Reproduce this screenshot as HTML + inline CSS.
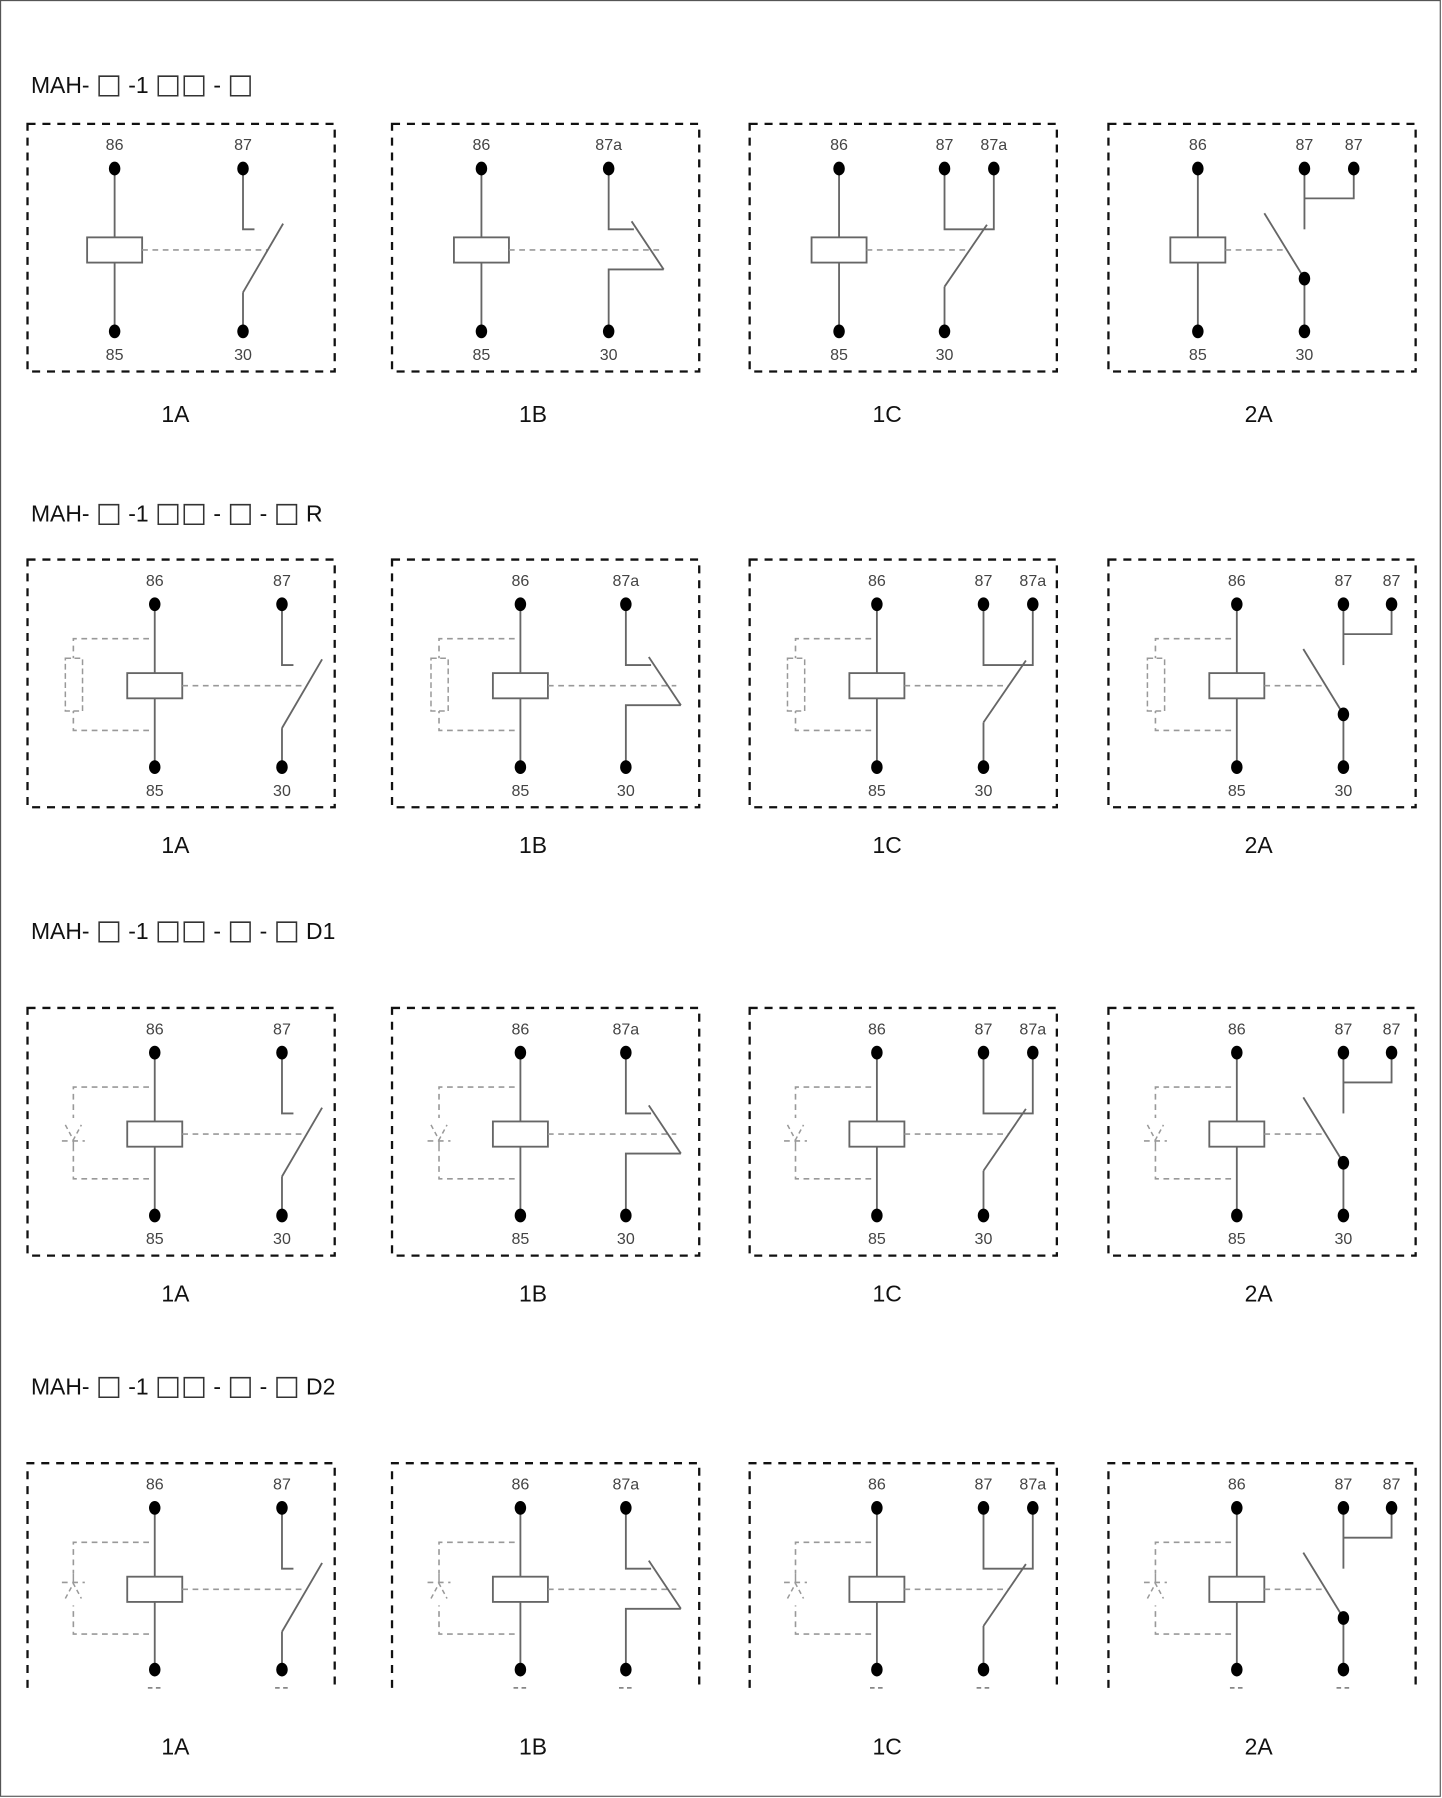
<!DOCTYPE html>
<html><head><meta charset="utf-8"><style>
html,body{margin:0;padding:0;background:#fff;}
svg{display:block;}
text{font-family:"Liberation Sans",Arial,sans-serif;}
</style></head><body>
<svg id="sv" width="1442" height="1798" viewBox="0 0 1258 1568" preserveAspectRatio="none" xmlns="http://www.w3.org/2000/svg">
<rect x="0.5" y="0.5" width="1256" height="1566" fill="#fff" stroke="#555" stroke-width="1"/>
</svg>
<script>
const headers=["MAH- \u25A1 -1 \u25A1\u25A1 - \u25A1","MAH- \u25A1 -1 \u25A1\u25A1 - \u25A1 - \u25A1 R","MAH- \u25A1 -1 \u25A1\u25A1 - \u25A1 - \u25A1 D1","MAH- \u25A1 -1 \u25A1\u25A1 - \u25A1 - \u25A1 D2"];
const headerY=[74,448,812,1209];
const boxTop=[108,488,879,1276];
const labelY=[361,737,1128,1523];
const suppress=["none","resistor","diode1","diode2"];
const types=["1A","1B","1C","2A"];
const boxX=[24,342,654,967];
const labelX=[153,465,774,1098];
const coilDx=[[76,78,78,78],[111,112,111,112],[111,112,111,112],[111,112,111,112]];
const rightDx=[[[188],[189],[170,213],[171,214]],[[222],[204],[204,247],[205,247]],[[222],[204],[204,247],[205,247]],[[222],[204],[204,247],[205,247]]];
const pinTop=[["86","87"],["86","87a"],["86","87","87a"],["86","87","87"]];
const pinBot=[["85","30"],["85","30"],["85","30"],["85","30"]];

const S='http://www.w3.org/2000/svg';
const sv=document.getElementById('sv');
function mk(tag,a,p){const e=document.createElementNS(S,tag);for(const k in a)e.setAttribute(k,a[k]);(p||sv).appendChild(e);return e;}
const LN={stroke:'#666','stroke-width':1.6,fill:'none'};
const DL={stroke:'#999','stroke-width':1.4,fill:'none','stroke-dasharray':'5 4'};
function pl(pts,st,g){return mk('polyline',Object.assign({points:pts.map(p=>p.join(',')).join(' ')},st),g);}
function dot(x,y,g){const d=mk('ellipse',{cx:x,cy:y,rx:5,ry:6,fill:'#000'},g);

}
function txt(x,y,s,size,fill,anchor,g){return mk('text',{x:x,y:y,'font-size':size,fill:fill,'text-anchor':anchor},g).appendChild(document.createTextNode(s)).parentNode;}

for(let r=0;r<4;r++){
  const h=mk('text',{x:27,y:headerY[r]+7,'font-size':20,fill:'#111'});
  
  
  for(const ch of headers[r]){
    const ts=mk('tspan',{},h);
    if(ch=='\u25A1'){ts.setAttribute('font-family','DejaVu Sans');ts.setAttribute('font-size','24');ts.setAttribute('fill','#333');}
    ts.appendChild(document.createTextNode(ch));
  }
  const T=boxTop[r];
  const C=T+110, yTop=T+39, yBot=r==3?T+180:T+181;
  for(let c=0;c<4;c++){
    const g=mk('g',{});
    
    
    const X=boxX[c];
    const bx=mk('path',{d:r==3?`M${X},1472 V${T} H${X+268} V1472`:`M${X},${T} H${X+268} V${T+216} H${X} Z`,fill:'none',stroke:'#111','stroke-width':2,'stroke-dasharray':'7 6'},g);
    
    
    const P=X+coilDx[r][c];
    const rp=rightDx[r][c].map(d=>X+d);
    const tx=[P].concat(rp);
    pinTop[c].forEach((s,i)=>{const t=txt(tx[i],T+23,s,14,'#444','middle',g);
      
      });
    if(r<3){[P,rp[0]].forEach((x,i)=>{const t=txt(x,T+206,pinBot[c][i],14,'#444','middle',g);
      
      });}
    else{[P,rp[0]].forEach(x=>{pl([[x-6,1472],[x+6,1472]],{stroke:'#888','stroke-width':1.5,'stroke-dasharray':'4 3'},g);});}
    if(r>0){
      const L=P-71;
      pl([[P-5,C-41],[L,C-41],[L,C+39],[P-5,C+39]],DL,g);
      if(suppress[r]=='resistor'){mk('rect',{x:L-7,y:C-24,width:15,height:46,fill:'#fff',stroke:'#999','stroke-width':1.3,'stroke-dasharray':'5 3'},g);}
      else{
        mk('rect',{x:L-3,y:C-14,width:6,height:28,fill:'#fff'},g);
        const s=suppress[r]=='diode1'?1:-1;
        pl([[L-10,C+6*s],[L+10,C+6*s]],DL,g);
        pl([[L-7,C-8*s],[L,C+5*s],[L+7,C-8*s]],{stroke:'#999','stroke-width':1.3,fill:'none','stroke-dasharray':'4 3'},g);
        pl([[L,C+6*s],[L,C+14*s]],{stroke:'#999','stroke-width':1.3},g);
      }
    }
    pl([[P,yTop],[P,yBot]],LN,g);
    const coil=mk('rect',{x:P-24,y:C-11,width:48,height:22,fill:'#fff',stroke:'#666','stroke-width':1.6},g);
    
    
    const CR=P+24;
    const t=types[c];
    if(t=='1A'){const R=rp[0];
      pl([[CR,C],[R+22,C]],DL,g);
      pl([[R,yTop],[R,C-18],[R+10,C-18]],LN,g);
      pl([[R,C+37],[R+35,C-23]],LN,g);
      pl([[R,yBot],[R,C+37]],LN,g);
      dot(R,yTop,g);dot(R,yBot,g);
    }else if(t=='1B'){const R=rp[0];
      pl([[CR,C],[R+44,C]],DL,g);
      pl([[R,yTop],[R,C-18],[R+22,C-18]],LN,g);
      pl([[R+20,C-25],[R+48,C+17]],LN,g);
      pl([[R,yBot],[R,C+17],[R+48,C+17]],LN,g);
      dot(R,yTop,g);dot(R,yBot,g);
    }else if(t=='1C'){const A=rp[0],B=rp[1];
      pl([[CR,C],[A+22,C]],DL,g);
      pl([[A,yTop],[A,C-18],[B,C-18],[B,yTop]],LN,g);
      pl([[A,C+32],[A+37,C-22]],LN,g);
      pl([[A,yBot],[A,C+32]],LN,g);
      dot(A,yTop,g);dot(B,yTop,g);dot(A,yBot,g);
    }else{const A=rp[0],B=rp[1];
      pl([[CR,C],[A-17,C]],DL,g);
      pl([[A,yTop],[A,C-18]],LN,g);
      pl([[A,C-45],[B,C-45],[B,yTop]],LN,g);
      pl([[A-35,C-32],[A,C+25]],LN,g);
      pl([[A,C+25],[A,yBot]],LN,g);
      dot(A,yTop,g);dot(B,yTop,g);dot(A,C+25,g);dot(A,yBot,g);
    }
    dot(P,yTop,g);dot(P,yBot,g);
    const lb=txt(labelX[c],labelY[r]+7,types[c],20,'#111','middle');
    
    
  }
}
</script>
</body></html>
